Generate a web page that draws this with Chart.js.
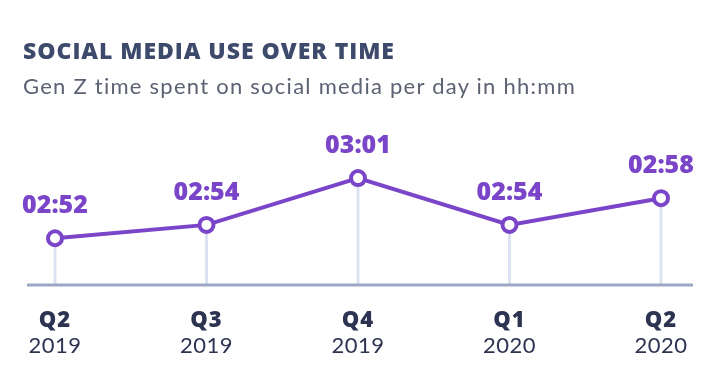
<!DOCTYPE html>
<html>
<head>
<meta charset="utf-8">
<script src="https://cdn.jsdelivr.net/npm/chart.js@4"></script>
<style>
  html, body { margin: 0; padding: 0; background: #fff; }
  #wrap { position: relative; width: 726px; height: 388px; overflow: hidden; }
  #chart { position: absolute; left: 0; top: 0; }
  .title {
    position: absolute; left: 23px; top: 34px;
    font-family: "Open Sans", sans-serif; font-weight: 800; font-size: 23px;
    color: #3d4a6b; letter-spacing: 0.95px; white-space: nowrap;
  }
  .subtitle {
    position: absolute; left: 23px; top: 72px;
    font-family: Lato, sans-serif; font-weight: 400; font-size: 22px;
    color: #5c6273; letter-spacing: 1.25px; white-space: nowrap;
  }
</style>
</head>
<body>
<div id="wrap">
  <canvas id="chart" width="726" height="388"></canvas>
  <div class="title">SOCIAL MEDIA USE OVER TIME</div>
  <div class="subtitle">Gen Z time spent on social media per day in hh:mm</div>
</div>
<script>
// Data
const quarters = ['Q2', 'Q3', 'Q4', 'Q1', 'Q2'];
const years = ['2019', '2019', '2019', '2020', '2020'];
const minutesPerDay = [172, 174, 181, 174, 178];

function fmt(m) {
    const h = Math.floor(m / 60);
    const mm = m % 60;
    return String(h).padStart(2, '0') + ':' + String(mm).padStart(2, '0');
}

const purple = '#7a45c8';

// drop lines, axis line and tick labels
const decorPlugin = {
    id: 'decor',
    beforeDatasetsDraw(chart) {
        const ctx = chart.ctx;
        const area = chart.chartArea;
        const meta = chart.getDatasetMeta(0);
        ctx.save();
        ctx.strokeStyle = '#dbe3f1';
        ctx.lineWidth = 3;
        meta.data.forEach(pt => {
            ctx.beginPath();
            ctx.moveTo(pt.x, pt.y);
            ctx.lineTo(pt.x, area.bottom);
            ctx.stroke();
        });
        // axis line
        ctx.strokeStyle = '#9ba7c4';
        ctx.lineWidth = 3;
        ctx.beginPath();
        ctx.moveTo(area.left - 28, area.bottom);
        ctx.lineTo(area.right + 32, area.bottom);
        ctx.stroke();
        // tick labels
        const xs = chart.scales.x;
        ctx.fillStyle = '#2d3452';
        ctx.textAlign = 'center';
        ctx.textBaseline = 'alphabetic';
        quarters.forEach((q, i) => {
            const x = xs.getPixelForValue(i);
            ctx.font = '800 22px "Open Sans"';
            ctx.letterSpacing = '1px';
            ctx.fillText(q, x, area.bottom + 42);
            ctx.font = '400 22px Lato';
            ctx.letterSpacing = '0.5px';
            ctx.fillText(years[i], x, area.bottom + 68);
        });
        ctx.restore();
    },
    afterDatasetsDraw(chart) {
        const ctx = chart.ctx;
        const meta = chart.getDatasetMeta(0);
        ctx.save();
        ctx.fillStyle = purple;
        ctx.font = '800 25px "Open Sans"';
        ctx.letterSpacing = '0px';
        ctx.textAlign = 'center';
        ctx.textBaseline = 'alphabetic';
        meta.data.forEach((pt, i) => {
            ctx.fillText(fmt(minutesPerDay[i]), pt.x, pt.y - 25);
        });
        ctx.restore();
    }
};

new Chart(document.getElementById('chart'), {
    type: 'line',
    data: {
        labels: quarters.map((q, i) => q + ' ' + years[i]),
        datasets: [{
            data: minutesPerDay,
            borderColor: purple,
            borderWidth: 4,
            tension: 0,
            pointRadius: 7,
            pointBorderWidth: 4,
            pointBackgroundColor: '#fff',
            pointBorderColor: purple,
            fill: false
        }]
    },
    options: {
        responsive: false,
        animation: false,
        layout: {
            padding: { left: 55, right: 65, top: 118, bottom: 103 }
        },
        plugins: {
            legend: { display: false },
            tooltip: { enabled: false }
        },
        scales: {
            x: { display: false, offset: false },
            y: { display: false, min: 165, max: 190 }
        }
    },
    plugins: [decorPlugin]
});
</script>
</body>
</html>
